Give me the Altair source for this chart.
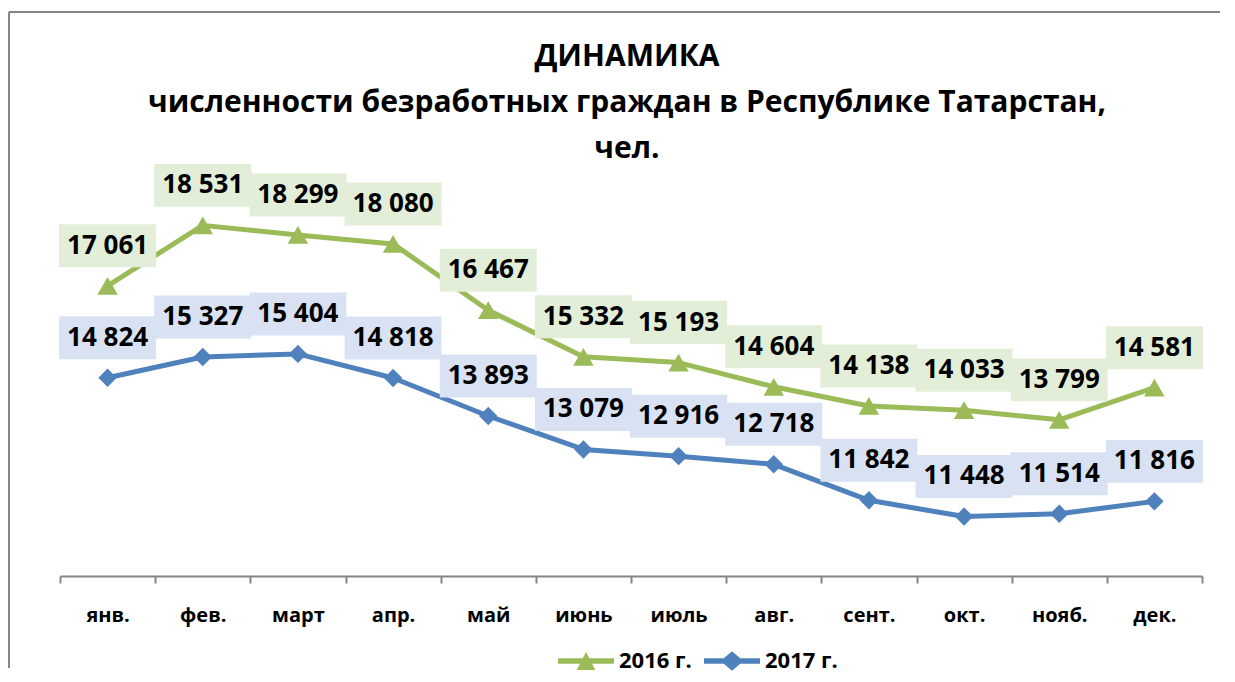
import altair as alt
import pandas as pd

months = ["янв.", "фев.", "март", "апр.", "май", "июнь", "июль", "авг.", "сент.", "окт.", "нояб.", "дек."]
series = ["2016 г.", "2017 г."]
values_2016 = [17061, 18531, 18299, 18080, 16467, 15332, 15193, 14604, 14138, 14033, 13799, 14581]
values_2017 = [14824, 15327, 15404, 14818, 13893, 13079, 12916, 12718, 11842, 11448, 11514, 11816]
title_lines = ["ДИНАМИКА", "численности безработных граждан в Республике Татарстан,", "чел."]

line_colors = ["#9BBB59", "#4F81BD"]
box_colors = ["#E3EED9", "#D9E2F3"]
marker_shapes = ["triangle-up", "diamond"]
marker_sizes = [420, 340]

rows = []
for s, vals in zip(series, [values_2016, values_2017]):
    for m, v in zip(months, vals):
        rows.append({"month": m, "year": s, "value": v,
                     "label": f"{v:,}".replace(",", " ")})
df = pd.DataFrame(rows)

FONT = "Open Sans"
x_enc = alt.X("month:N", sort=months, title=None,
              scale=alt.Scale(paddingInner=0, paddingOuter=0),
              axis=alt.Axis(labelAngle=0, labelFont=FONT, labelFontWeight="bold",
                            labelFontSize=20, labelColor="#000000", labelPadding=22,
                            domainColor="#868686", domainWidth=2,
                            tickColor="#868686", tickWidth=2, tickSize=7,
                            tickBand="extent", grid=False))
y_enc = alt.Y("value:Q", title=None, scale=alt.Scale(domain=[10000, 20000], nice=False, zero=False),
              axis=None)

line_layers, point_layers, box_layers = [], [], []
box_path = "M-1,-0.443L1,-0.443L1,0.443L-1,0.443Z"
for i, s in enumerate(series):
    sub = alt.Chart(df[df["year"] == s])
    line_layers.append(sub.mark_line(strokeWidth=5, strokeCap="round", strokeJoin="round",
                                     color=line_colors[i]).encode(x=x_enc, y=y_enc))
    point_layers.append(sub.mark_point(filled=True, opacity=1, shape=marker_shapes[i],
                                       size=marker_sizes[i], color=line_colors[i]).encode(x=x_enc, y=y_enc))
    box_layers.append(sub.mark_point(filled=True, opacity=1, shape=box_path, size=9409, yOffset=-40,
                                     strokeWidth=0, fill=box_colors[i]).encode(x=x_enc, y=y_enc))

texts = alt.Chart(df).mark_text(font=FONT, fontWeight="bold", fontSize=26, color="#000000",
                                yOffset=-40, baseline="middle", align="center").encode(
    x=x_enc, y=y_enc, text="label:N")

tri_path = "M-1,-0.1L1,-0.1L1,0.1L-1,0.1Z M-0.33,0.32L0,-0.32L0.33,0.32Z"
dia_path = "M-1,-0.1L1,-0.1L1,0.1L-1,0.1Z M-0.41,0L0,-0.35L0.41,0L0,0.35Z"
legend_layer = alt.Chart(df).mark_point(filled=True, size=0, opacity=1).encode(
    x=x_enc, y=y_enc,
    color=alt.Color("year:N", scale=alt.Scale(domain=series, range=line_colors),
                    legend=alt.Legend(title=None, orient="none", direction="horizontal",
                                      legendX=498, legendY=468, symbolSize=3136,
                                      symbolOpacity=1, symbolStrokeWidth=0,
                                      labelFont=FONT, labelFontWeight="bold", labelFontSize=22,
                                      labelColor="#000000", labelOffset=5, columnPadding=12)),
    shape=alt.Shape("year:N", scale=alt.Scale(domain=series, range=[tri_path, dia_path])),
)

frame = pd.DataFrame({"k": [0]})
border_top = alt.Chart(frame).mark_rule(color="#868686", strokeWidth=2).encode(
    x=alt.value(-51), x2=alt.value(1160), y=alt.value(-153))
border_left = alt.Chart(frame).mark_rule(color="#868686", strokeWidth=2).encode(
    x=alt.value(-51), y=alt.value(-153), y2=alt.value(503))

chart = alt.layer(border_top, border_left, *line_layers, *point_layers, *box_layers, texts,
                  legend_layer).properties(
    width=1142, height=411,
    title=alt.TitleParams(text=title_lines, font=FONT, fontWeight="bold", fontSize=30,
                          lineHeight=46, anchor="middle", frame="group", dx=-4, offset=-153,
                          color="#000000"),
    padding={"left": 0, "top": 3, "right": 0, "bottom": 2},
).configure_view(stroke=None)

chart.save("out.html", embed_options={"renderer": "svg", "actions": False})
